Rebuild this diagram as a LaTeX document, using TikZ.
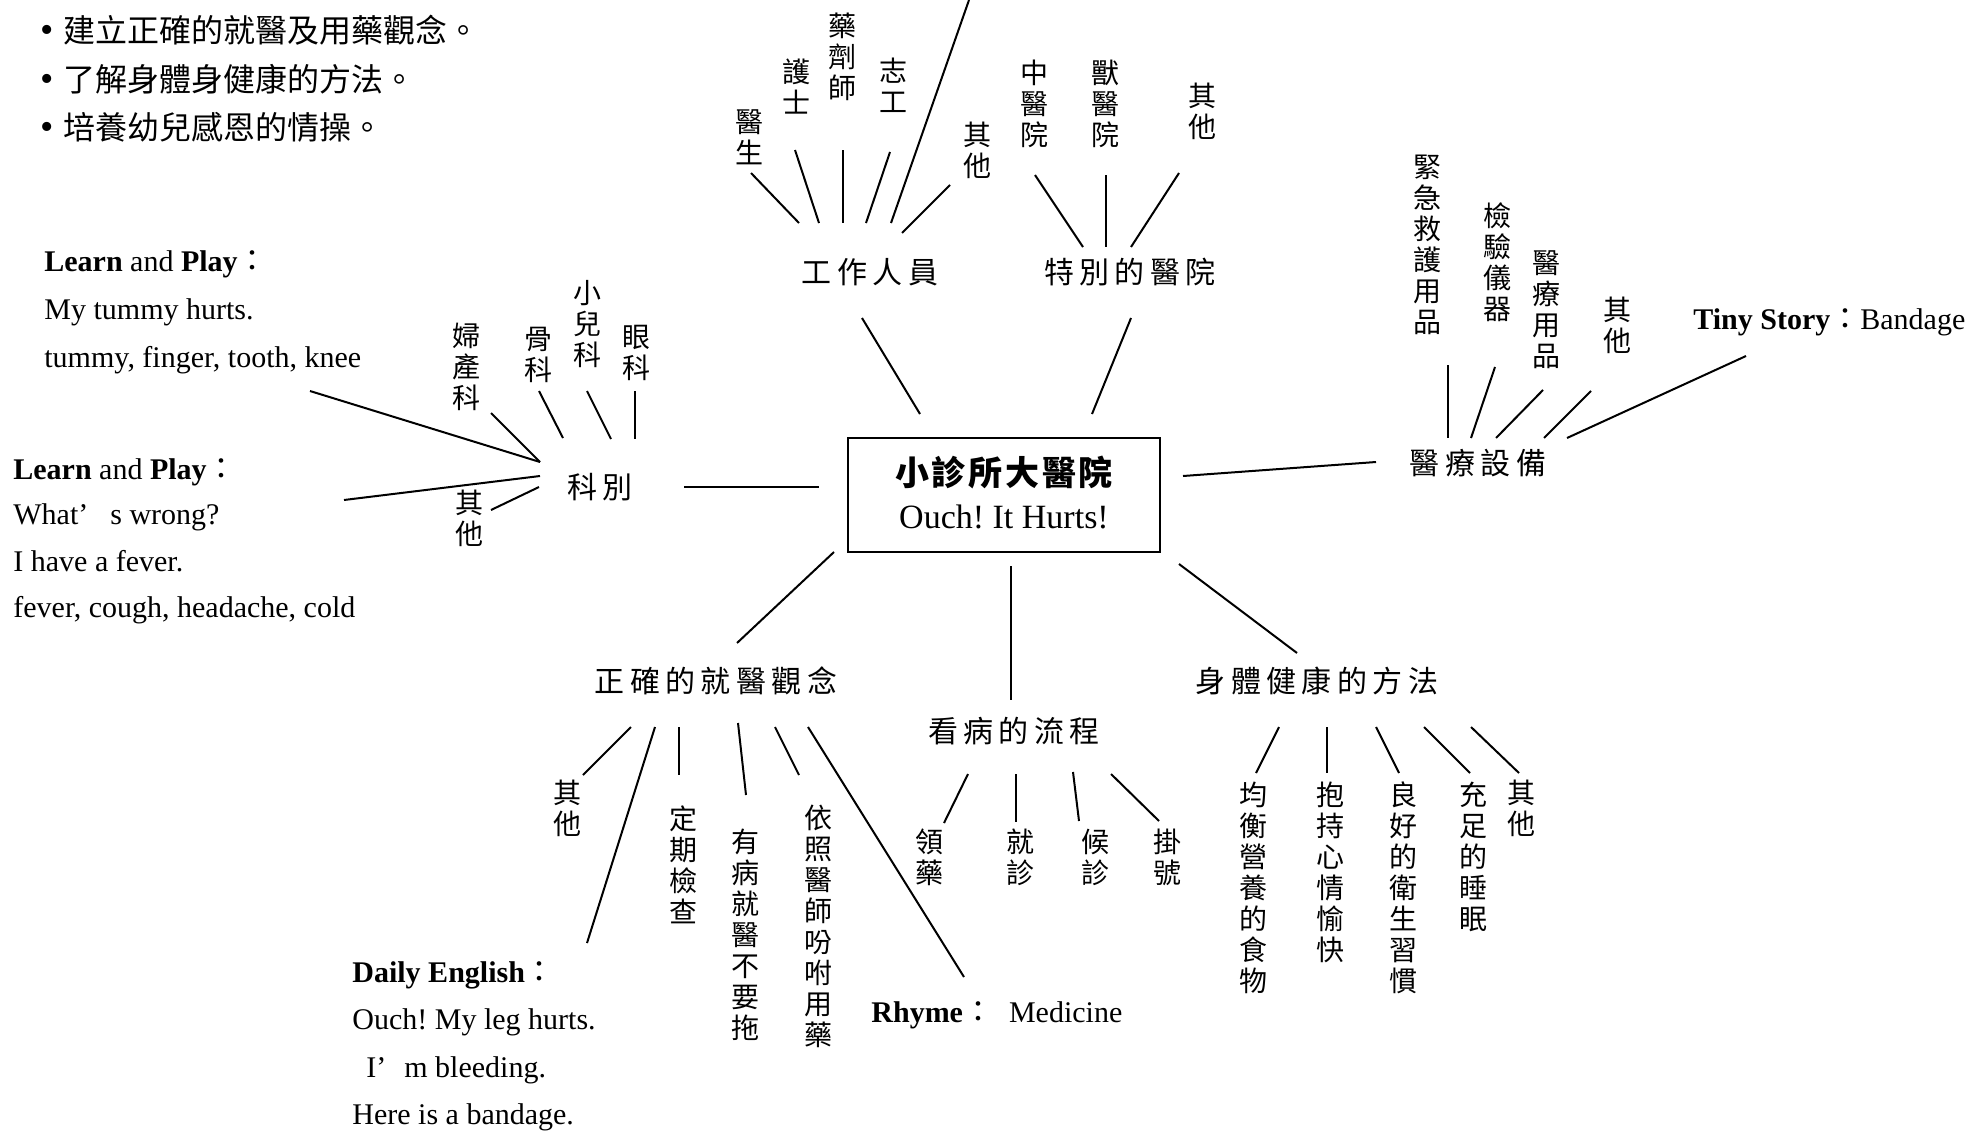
\documentclass[tikz,border=0pt]{standalone}
\usepackage{fontspec}
\setmainfont{Liberation Serif}
\newfontfamily\cjk{Noto Sans CJK TC}
\newfontfamily\cjkls[LetterSpace=18]{Noto Sans CJK TC}
\newfontfamily\cjkc[LetterSpace=8]{Noto Sans CJK TC}
\newcommand\mmconn[3]{\coordinate (#1a) at (#2); \coordinate (#1b) at (#3); \draw[conn] (#1a) -- (#1b);}
\newcommand\mmbul{{\rmfamily\fontsize{19}{19}\selectfont •}}
\tikzset{
  conn/.style={line width=1pt},
  lbl/.style={inner sep=0pt, font=\cjkls\fontsize{15}{18}\selectfont},
  vlbl/.style={inner sep=0pt, align=center, font=\cjk\fontsize{14}{15.5}\selectfont},
  eng/.style={inner sep=0pt, anchor=base west, font=\frenchspacing\fontsize{15}{18}\selectfont},
  bul/.style={inner sep=0pt, anchor=west, font=\cjk\fontsize{16}{18}\selectfont},
  hubbox/.style={draw, line width=1pt, minimum width=156pt, minimum height=57pt, inner sep=0pt},
}
\begin{document}
\frenchspacing
\begin{tikzpicture}[x=0.5pt,y=-0.5pt]
\fill[white] (0,0) rectangle (1984,1130);
\useasboundingbox (0,0) rectangle (1984,1130);

% goals
\node[bul] (b1) at (40,30) {\mmbul\hspace{5pt}建立正確的就醫及用藥觀念。};
\node[bul] (b2) at (40,79) {\mmbul\hspace{5pt}了解身體身健康的方法。};
\node[bul] (b3) at (40,127) {\mmbul\hspace{5pt}培養幼兒感恩的情操。};

% centre
\node[hubbox] (hub) at (1004,495) {};
\node[inner sep=0pt, font=\cjkc\bfseries\fontsize{17}{20}\selectfont] (hubt1) at (1004,473) {小診所大醫院};
\node[inner sep=0pt, font=\frenchspacing\fontsize{17}{20}\selectfont] (hubt2) at (1004,517) {Ouch! It Hurts!};

% branch labels
\node[lbl] (staff) at (870,272) {工作人員};
\node[lbl] (spec) at (1130,272) {特別的醫院};
\node[lbl] (equip) at (1478,463) {醫療設備};
\node[lbl] (dept) at (600,487) {科別};
\node[lbl] (concept) at (716,681) {正確的就醫觀念};
\node[lbl] (proc) at (1014,731) {看病的流程};
\node[lbl] (health) at (1317,681) {身體健康的方法};

% hub connectors
\mmconn{h1}{862,318}{920,414}
\mmconn{h2}{1131,318}{1092,414}
\mmconn{h3}{1183,476}{1376,462}
\mmconn{h4}{684,487}{819,487}
\mmconn{h5}{834,552}{737,643}
\mmconn{h6}{1011,566}{1011,700}
\mmconn{h7}{1179,564}{1297,653}

% staff
\node[vlbl] (s1) at (749,137) {醫\\生};
\node[vlbl] (s2) at (796,87) {護\\士};
\node[vlbl] (s3) at (842,57) {藥\\劑\\師};
\node[vlbl] (s4) at (893,85) {志\\工};
\node[vlbl] (s5) at (977,150) {其\\他};
\mmconn{sc1}{751,173}{799,223}
\mmconn{sc2}{795,150}{819,223}
\mmconn{sc3}{843,150}{843,223}
\mmconn{sc4}{890,152}{866,223}
\mmconn{sc5}{969,0}{891,223}
\mmconn{sc6}{950,185}{902,233}

% special hospitals
\node[vlbl] (p1) at (1034,104) {中\\醫\\院};
\node[vlbl] (p2) at (1105,104) {獸\\醫\\院};
\node[vlbl] (p3) at (1202,111) {其\\他};
\mmconn{pc1}{1035,175}{1083,247}
\mmconn{pc2}{1106,175}{1106,247}
\mmconn{pc3}{1179,173}{1131,247}

% equipment
\node[vlbl] (e1) at (1427,245) {緊\\急\\救\\護\\用\\品};
\node[vlbl] (e2) at (1497,262) {檢\\驗\\儀\\器};
\node[vlbl] (e3) at (1546,310) {醫\\療\\用\\品};
\node[vlbl] (e4) at (1617,325) {其\\他};
\node[eng] (tiny) at (1693,329) {\textbf{Tiny Story}{\cjk ：}Bandage};
\mmconn{ec1}{1448,365}{1448,438}
\mmconn{ec2}{1495,367}{1471,438}
\mmconn{ec3}{1543,390}{1496,438}
\mmconn{ec4}{1591,391}{1544,438}
\mmconn{ec5}{1746,356}{1567,438}

% departments
\node[vlbl] (d1) at (466,367) {婦\\產\\科};
\node[vlbl] (d2) at (538,355) {骨\\科};
\node[vlbl] (d3) at (587,324) {小\\兒\\科};
\node[vlbl] (d4) at (636,353) {眼\\科};
\node[vlbl] (d5) at (469,518) {其\\他};
\mmconn{dc1}{491,413}{540,462}
\mmconn{dc2}{539,391}{563,438}
\mmconn{dc3}{587,391}{611,439}
\mmconn{dc4}{635,391}{635,439}
\mmconn{dc5}{310,391}{540,462}
\mmconn{dc6}{344,500}{540,476}
\mmconn{dc7}{491,510}{539,487}

\node[eng] (lpa1) at (44,271) {\textbf{Learn} and \textbf{Play}{\cjk ：}};
\node[eng] (lpa2) at (44,319) {My tummy hurts.};
\node[eng] (lpa3) at (44,367) {tummy, finger, tooth, knee};
\node[eng] (lpb1) at (13,479) {\textbf{Learn} and \textbf{Play}{\cjk ：}};
\node[eng] (lpb2) at (13,524) {What’\hspace{11pt}s wrong?};
\node[eng] (lpb3) at (13,571) {I have a fever.};
\node[eng] (lpb4) at (13,617) {fever, cough, headache, cold};

% concept
\node[vlbl] (c1) at (567,808) {其\\他};
\node[vlbl] (c2) at (683,865) {定\\期\\檢\\查};
\node[vlbl] (c3) at (745,935) {有\\病\\就\\醫\\不\\要\\拖};
\node[vlbl] (c4) at (818,926) {依\\照\\醫\\師\\吩\\咐\\用\\藥};
\mmconn{cc1}{631,727}{583,775}
\mmconn{cc2}{655,727}{587,943}
\mmconn{cc3}{679,727}{679,775}
\mmconn{cc4}{738,723}{746,795}
\mmconn{cc5}{775,727}{799,775}
\mmconn{cc6}{808,727}{964,977}
\node[eng] (de1) at (352,982) {\textbf{Daily English}{\cjk ：}};
\node[eng] (de2) at (352,1029) {Ouch! My leg hurts.};
\node[eng] (de3) at (352,1077) {\hspace{7pt}I’\hspace{9pt}m bleeding.};
\node[eng] (de4) at (352,1124) {Here is a bandage.};
\node[eng] (rhyme) at (871,1022) {\textbf{Rhyme}{\cjk ：}\hspace{8pt}Medicine};

% procedure
\node[vlbl] (r1) at (929,857) {領\\藥};
\node[vlbl] (r2) at (1020,857) {就\\診};
\node[vlbl] (r3) at (1095,857) {候\\診};
\node[vlbl] (r4) at (1167,857) {掛\\號};
\mmconn{rc1}{968,774}{944,823}
\mmconn{rc2}{1016,774}{1016,822}
\mmconn{rc3}{1073,772}{1079,821}
\mmconn{rc4}{1111,774}{1159,821}

% health
\node[vlbl] (k1) at (1253,888) {均\\衡\\營\\養\\的\\食\\物};
\node[vlbl] (k2) at (1330,872) {抱\\持\\心\\情\\愉\\快};
\node[vlbl] (k3) at (1403,888) {良\\好\\的\\衛\\生\\習\\慣};
\node[vlbl] (k4) at (1473,857) {充\\足\\的\\睡\\眠};
\node[vlbl] (k5) at (1521,808) {其\\他};
\mmconn{kc1}{1279,727}{1256,773}
\mmconn{kc2}{1327,727}{1327,773}
\mmconn{kc3}{1376,727}{1399,773}
\mmconn{kc4}{1424,727}{1470,773}
\mmconn{kc5}{1471,727}{1519,773}
\end{tikzpicture}
\end{document}
